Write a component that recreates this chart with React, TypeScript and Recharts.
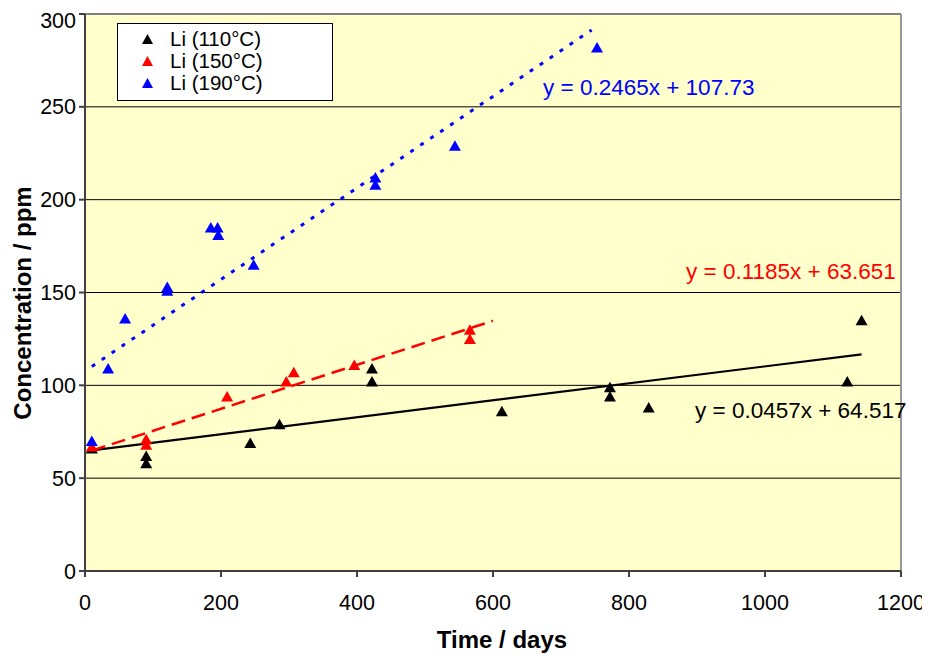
import React from "react";
import {
  ScatterChart,
  Scatter,
  XAxis,
  YAxis,
  CartesianGrid,
  ReferenceLine,
} from "recharts";

// ---- data ----
const li110Days = [10, 90, 90, 243, 286, 422, 422, 613, 772, 772, 829, 1121, 1142];
const li110Conc = [66, 62, 58, 69, 79, 109, 102, 86, 99, 94, 88, 102, 135];

const li150Days = [10, 90, 90, 209, 296, 307, 396, 566, 566];
const li150Conc = [67, 71, 68, 94, 102, 107, 111, 130, 125];

const li190Days = [10, 34, 59, 121, 121, 185, 195, 196, 248, 427, 427, 544, 753];
const li190Conc = [70, 109, 136, 153, 151, 185, 185, 181, 165, 212, 208, 229, 282];

// trendline equations as printed on the chart: [slope, intercept]
const trend110 = [0.0457, 64.517];
const trend150 = [0.1185, 63.651];
const trend190 = [0.2465, 107.73];
// trendline x extents
const trend110Range = [10, 1142];
const trend150Range = [10, 600];
const trend190Range = [10, 745];

const eq110 = "y = 0.0457x + 64.517";
const eq150 = "y = 0.1185x + 63.651";
const eq190 = "y = 0.2465x + 107.73";

const seriesNames = ["Li (110°C)", "Li (150°C)", "Li (190°C)"];
const seriesColors = ["#000000", "#FF0000", "#0000FF"];

const xTicks = [0, 200, 400, 600, 800, 1000, 1200];
const yTicks = [0, 50, 100, 150, 200, 250, 300];

const toPoints = (xs: number[], ys: number[]) => xs.map((x, i) => ({ x, y: ys[i] }));
const trendPoints = (eq: number[], range: number[]) =>
  range.map((x) => ({ x, y: eq[0] * x + eq[1] }));

const pts110 = toPoints(li110Days, li110Conc);
const pts150 = toPoints(li150Days, li150Conc);
const pts190 = toPoints(li190Days, li190Conc);

const FONT = "'Liberation Sans', Arial, sans-serif";

const makeTriangle = (color: string) => (props: any) => {
  const { cx, cy } = props;
  if (cx == null || cy == null) return <g />;
  return (
    <polygon
      points={`${cx},${cy - 5.5} ${cx - 6},${cy + 5} ${cx + 6},${cy + 5}`}
      fill={color}
    />
  );
};

const noShape = () => <g />;

const YLabel = () => {
  const cy = 303 - 8;
  const x = 22 - 8;
  return (
    <text
      x={x}
      y={cy}
      transform={`rotate(-90 ${x} ${cy})`}
      textAnchor="middle"
      dominantBaseline="central"
      fontFamily={FONT}
      fontWeight="bold"
      fontSize={24}
      fill="#000"
    >
      Concentration / ppm
    </text>
  );
};

const XLabel = () => (
  <text
    x={502 - 8}
    y={648 - 8}
    textAnchor="middle"
    fontFamily={FONT}
    fontWeight="bold"
    fontSize={24}
    fill="#000"
  >
    Time / days
  </text>
);

const Tri = ({ color }: { color: string }) => (
  <svg width={11} height={10} style={{ position: "absolute", left: 0, top: 0 }}>
    <polygon points="5.5,0 0,10 11,10" fill={color} />
  </svg>
);

export default function App() {
  const rowCenters = [31, 53, 75];
  return (
    <div style={{ position: "relative", width: 922, height: 651, fontFamily: FONT }}>
      <ScatterChart
        width={922}
        height={651}
        margin={{ top: 6, right: 29, left: 0, bottom: 0 }}
        style={{ fontFamily: FONT }}
      >
        <CartesianGrid
          horizontal={true}
          vertical={false}
          stroke="#000"
          strokeWidth={1}
          fill="#FFFFCC"
          fillOpacity={1}
        />
        <ReferenceLine y={300} stroke="#808080" strokeWidth={2} />
        <ReferenceLine x={1200} stroke="#999999" strokeWidth={2} />
        <XAxis
          type="number"
          dataKey="x"
          domain={[0, 1200]}
          ticks={xTicks}
          allowDataOverflow
          height={88}
          tickSize={6}
          tickMargin={18}
          stroke="#404040"
          strokeWidth={2}
          tick={{ fill: "#000", fontSize: 21.5, fontFamily: FONT }}
          label={<XLabel />}
        />
        <YAxis
          type="number"
          dataKey="y"
          domain={[0, 300]}
          ticks={yTicks}
          allowDataOverflow
          width={77}
          tickSize={6}
          tickMargin={3}
          stroke="#404040"
          strokeWidth={2}
          tick={{ fill: "#000", fontSize: 21.5, fontFamily: FONT }}
          label={<YLabel />}
        />
        <Scatter
          data={trendPoints(trend110, trend110Range)}
          line={{ stroke: seriesColors[0], strokeWidth: 2.2 }}
          lineType="joint"
          shape={noShape}
          isAnimationActive={false}
        />
        <Scatter
          data={trendPoints(trend150, trend150Range)}
          line={{ stroke: seriesColors[1], strokeWidth: 2.5, strokeDasharray: "14 7" }}
          lineType="joint"
          shape={noShape}
          isAnimationActive={false}
        />
        <Scatter
          data={trendPoints(trend190, trend190Range)}
          line={{ stroke: seriesColors[2], strokeWidth: 3, strokeDasharray: "4 8" }}
          lineType="joint"
          shape={noShape}
          isAnimationActive={false}
        />
        <Scatter
          name={seriesNames[0]}
          data={pts110}
          shape={makeTriangle(seriesColors[0])}
          isAnimationActive={false}
        />
        <Scatter
          name={seriesNames[1]}
          data={pts150}
          shape={makeTriangle(seriesColors[1])}
          isAnimationActive={false}
        />
        <Scatter
          name={seriesNames[2]}
          data={pts190}
          shape={makeTriangle(seriesColors[2])}
          isAnimationActive={false}
        />
      </ScatterChart>

      {/* legend */}
      <div
        style={{
          position: "absolute",
          left: 109,
          top: 15,
          width: 214,
          height: 76,
          background: "#FFFFFF",
          border: "1px solid #000",
        }}
      />
      {seriesNames.map((name, i) => (
        <React.Fragment key={name}>
          <div
            style={{
              position: "absolute",
              left: 147 - 8 - 5.5,
              top: rowCenters[i] - 5,
              width: 11,
              height: 10,
            }}
          >
            <Tri color={seriesColors[i]} />
          </div>
          <div
            style={{
              position: "absolute",
              left: 170 - 8,
              top: rowCenters[i] - 10,
              height: 20,
              fontSize: 20.5,
              lineHeight: "20px",
              whiteSpace: "nowrap",
              color: "#000",
            }}
          >
            {name}
          </div>
        </React.Fragment>
      ))}

      {/* trendline equations */}
      <div style={{ position: "absolute", left: 535, top: 69, fontSize: 22.5, lineHeight: 1, whiteSpace: "nowrap", color: seriesColors[2] }}>
        {eq190}
      </div>
      <div style={{ position: "absolute", left: 678, top: 253, fontSize: 22.5, lineHeight: 1, whiteSpace: "nowrap", color: seriesColors[1] }}>
        {eq150}
      </div>
      <div style={{ position: "absolute", left: 687, top: 392, fontSize: 22.5, lineHeight: 1, whiteSpace: "nowrap", color: seriesColors[0] }}>
        {eq110}
      </div>
    </div>
  );
}
